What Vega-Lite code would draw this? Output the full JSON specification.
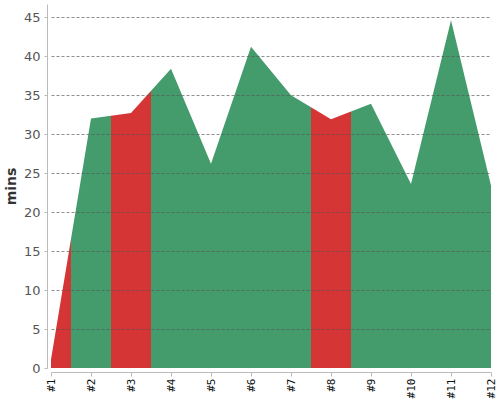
{
  "$schema": "https://vega.github.io/schema/vega-lite/v6.json",
  "width": 440,
  "height": 364,
  "autosize": "none",
  "padding": {"left": 51, "top": 4, "right": 9, "bottom": 32},
  "background": "white",
  "datasets": {
    "series": [
      {"n": 1, "mins": 1.1},
      {"n": 2, "mins": 32.0},
      {"n": 3, "mins": 32.7},
      {"n": 4, "mins": 38.4},
      {"n": 5, "mins": 26.2},
      {"n": 6, "mins": 41.2},
      {"n": 7, "mins": 35.0},
      {"n": 8, "mins": 31.9},
      {"n": 9, "mins": 33.9},
      {"n": 10, "mins": 23.6},
      {"n": 11, "mins": 44.6},
      {"n": 12, "mins": 23.4}
    ],
    "bands": [
      {"start": 1, "end": 1.5, "kind": "red"},
      {"start": 1.5, "end": 2.5, "kind": "green"},
      {"start": 2.5, "end": 3.5, "kind": "red"},
      {"start": 3.5, "end": 7.5, "kind": "green"},
      {"start": 7.5, "end": 8.5, "kind": "red"},
      {"start": 8.5, "end": 12, "kind": "green"}
    ]
  },
  "layer": [
    {
      "data": {"name": "bands"},
      "mark": {"type": "rect"},
      "encoding": {
        "x": {
          "field": "start", "type": "quantitative",
          "scale": {"domain": [1, 12], "nice": false, "zero": false}
        },
        "x2": {"field": "end"},
        "color": {
          "field": "kind", "type": "nominal",
          "scale": {"domain": ["green", "red"], "range": ["#449c6c", "#d63536"]},
          "legend": null
        }
      }
    },
    {
      "data": {"name": "series"},
      "mark": {"type": "area", "fill": "white", "opacity": 1},
      "encoding": {
        "x": {"field": "n", "type": "quantitative"},
        "y": {
          "field": "mins", "type": "quantitative",
          "scale": {"domain": [0, 46.7], "nice": false},
          "axis": {
            "values": [0, 5, 10, 15, 20, 25, 30, 35, 40, 45],
            "title": "mins", "titleFont": "DejaVu Sans", "titleFontSize": 14,
            "titleFontWeight": "bold", "titleColor": "#333", "titlePadding": 5,
            "labelFont": "DejaVu Sans", "labelFontSize": 13, "labelColor": "#555",
            "labelPadding": 4, "offset": 4, "tickSize": 3, "tickColor": "#bbb",
            "domainColor": "#bbb", "grid": true, "gridColor": "#555",
            "gridDash": [3, 2],
            "gridOpacity": {"condition": {"test": "datum.value === 0", "value": 0}, "value": 0.65},
            "zindex": 1
          }
        },
        "y2": {"datum": 46.7}
      }
    }
  ],
  "config": {
    "view": {"stroke": null},
    "axisX": {
      "values": [1, 2, 3, 4, 5, 6, 7, 8, 9, 10, 11, 12],
      "labelExpr": "'#' + datum.value",
      "labelAngle": 270, "labelAlign": "right", "labelBaseline": "middle",
      "labelFont": "DejaVu Sans Mono", "labelFontSize": 11, "labelColor": "#111",
      "labelPadding": 2, "offset": 4, "tickSize": 4, "tickColor": "#bbb",
      "domainColor": "#bbb", "grid": false, "title": null, "labelFlush": false,
      "labelOverlap": false, "labelBound": false
    }
  }
}
